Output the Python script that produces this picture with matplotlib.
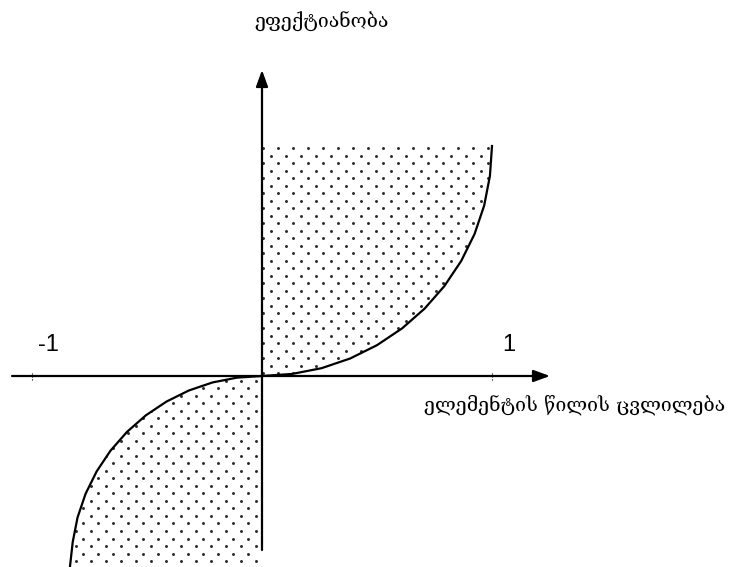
import matplotlib
matplotlib.use("Agg")
import matplotlib.pyplot as plt
import numpy as np

# upper curve (units of the axis)
up_x = [0.0, 0.131, 0.259, 0.383, 0.500, 0.609, 0.707, 0.793, 0.866, 0.924, 0.966, 0.991, 1.0]
up_y = [0.0, 0.009, 0.034, 0.076, 0.134, 0.207, 0.293, 0.391, 0.500, 0.617, 0.741, 0.870, 1.0]

# lower curve
lo_x = [0.0, -0.108, -0.215, -0.318, -0.415, -0.505, -0.587, -0.659, -0.719, -0.767, -0.802, -0.823, -0.835]
lo_y = [0.0, -0.007, -0.028, -0.063, -0.111, -0.171, -0.243, -0.325, -0.415, -0.512, -0.615, -0.722, -0.830]

tick_vals = [-1, 1]
tick_labels = ["-1", "1"]
y_label = "ეფექტიანობა"
x_label = "ელემენტის წილის ცვლილება"

fig = plt.figure(figsize=(7.33, 5.67), dpi=100)
ax = fig.add_axes([0, 0, 1, 1])
ax.set_xlim(-262 / 230, 471 / 230)
ax.set_ylim(-191 / 230, 376 / 230)
ax.axis("off")

# dotted texture, clipped to the shaded areas
step = 7.5 / 230
gx, gy = np.meshgrid(np.arange(-1.2, 1.2, step), np.arange(-1.0, 1.2, step))
gi, gj = np.meshgrid(np.arange(gx.shape[1]), np.arange(gx.shape[0]))
keep = (gi + gj) % 2 == 0
for cx, cy in [(up_x, up_y), (lo_x, lo_y)]:
    if cy[-1] < 0:
        # extend the lower area past the bottom edge
        cy = cy + [cy[-1] * 1.2]
        cx = cx + [cx[-1]]
    poly = ax.fill_betweenx(cy, 0, cx, facecolor="none", edgecolor="none")
    dots = ax.scatter(gx[keep], gy[keep], s=4.5, color="#2a2a2a", linewidths=0)
    dots.set_clip_path(poly.get_paths()[0], ax.transData)

ax.plot(up_x, up_y, color="black", lw=1.6)
ax.plot(lo_x, lo_y, color="black", lw=1.6)

# axes with arrows
arrow = dict(arrowstyle="-|>,head_length=0.55,head_width=0.2", color="black",
             lw=1.6, mutation_scale=18, shrinkA=0, shrinkB=0)
ax.annotate("", xy=(288 / 230, 0), xytext=(-250 / 230, 0), arrowprops=arrow)
ax.annotate("", xy=(0, 306 / 230), xytext=(0, -174 / 230), arrowprops=arrow)

ax.vlines(tick_vals, -0.017, 0.015, colors="black", linestyles=":", lw=0.8)
for v, lab in zip(tick_vals, tick_labels):
    ax.annotate(lab, xy=(v, 0), xytext=(12, 22), textcoords="offset points",
                ha="center", va="center", fontsize=17, family="Liberation Sans")

geo = ["DejaVu Serif", "DejaVu Sans"]
ax.text(0.261, 1.539, y_label, ha="center", va="center", fontsize=14, family=geo)
ax.text(1.361, -0.126, x_label, ha="center", va="center", fontsize=14, family=geo)

fig.savefig("out.png", dpi=100)
